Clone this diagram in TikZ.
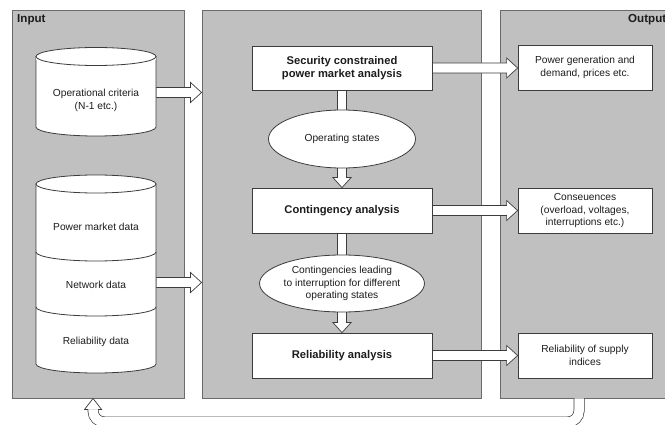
\documentclass[tikz,border=0pt]{standalone}
\usepackage{fontspec}
\setmainfont{Liberation Sans}
\usetikzlibrary{shapes.geometric,calc,shadows}
\definecolor{panelgray}{HTML}{C0C0C0}
\definecolor{paneledge}{HTML}{6B6B6B}
\definecolor{edge}{HTML}{3C3C3C}
\definecolor{ink}{HTML}{1C1C1C}
\newcommand{\regtxt}{\fontsize{10.2}{12.8}\selectfont}
\newcommand{\boldtxt}{\fontsize{11.2}{13.6}\selectfont\bfseries}
\newcommand{\titletxt}{\fontsize{11.6}{14}\selectfont\bfseries}
\pgfdeclarelayer{panels}
\pgfdeclarelayer{links}
\pgfsetlayers{panels,links,main}
\newcommand{\harrow}[2]{%
  \path[hollow] ($(#1)+(0,-5)$) -- ($(#2)+(-11,-5)$) -- ($(#2)+(-11,-10)$) -- (#2) -- ($(#2)+(-11,10)$) -- ($(#2)+(-11,5)$) -- ($(#1)+(0,5)$) -- cycle;}
\newcommand{\varrow}[2]{%
  \path[hollow] ($(#1)+(-4.5,-3)$) -- ($(#2)+(-4.5,-10)$) -- ($(#2)+(-9,-10)$) -- (#2) -- ($(#2)+(9,-10)$) -- ($(#2)+(4.5,-10)$) -- ($(#1)+(4.5,-3)$) -- cycle;}
\newcommand{\vshaft}[2]{%
  \path[hollow] ($(#1)+(-4.5,0)$) rectangle ($(#2)+(4.5,3)$);}
\begin{document}
\begin{tikzpicture}[x=1pt,y=-1pt,
  panel/.style={draw=paneledge,fill=panelgray,line width=0.9pt,inner sep=0pt,
    drop shadow={shadow xshift=1.2pt,shadow yshift=-1.2pt,fill=black,opacity=0.3}},
  procbox/.style={draw=edge,fill=white,line width=0.8pt,inner sep=0pt,minimum width=180pt,minimum height=44pt,align=center,font=\boldtxt,text=ink},
  outbox/.style={draw=edge,fill=white,line width=0.8pt,inner sep=0pt,minimum width=134pt,minimum height=45pt,align=center,font=\regtxt,text=ink},
  statell/.style={ellipse,draw=edge,fill=white,line width=0.8pt,inner sep=0pt,minimum width=147pt,minimum height=58pt,align=center,font=\regtxt,text=ink},
  dbtext/.style={font=\regtxt,align=center,text=ink},
  paneltitle/.style={font=\titletxt,text=ink,inner sep=0pt},
  dbshape/.style={draw=edge,fill=white,line width=0.8pt},
  hollow/.style={draw=edge,fill=white,line width=0.7pt,line join=miter},
]
\useasboundingbox (0,0) rectangle (665,425);
\clip (0,0) rectangle (665,425);

\begin{pgfonlayer}{panels}
\node[panel,minimum width=172pt,minimum height=388pt] (inp) at (98,204) {};
\node[panel,minimum width=279pt,minimum height=388pt] (mid) at (341.5,204) {};
\node[panel,minimum width=180pt,minimum height=388pt] (out) at (590,204) {};
\end{pgfonlayer}

\node[paneltitle,anchor=west] (intitle) at (17,20) {Input};
\node[paneltitle,anchor=west] (outtitle) at (628,20) {Output};

% cylinder 1
\path[dbshape] (36,56.5) -- (36,127) arc[start angle=180,end angle=0,x radius=60,y radius=9] -- (156,56.5) -- cycle;
\draw[draw=none,fill=white] (36.4,56.5) rectangle (155.6,60);
\draw[dbshape] (96,56.5) ellipse[x radius=60,y radius=9];
\node[dbtext] (crit) at (96,100.5) {Operational criteria\\(N-1 etc.)};
\coordinate (c1e) at (156,92.5);

% cylinder 2
\path[dbshape] (36,184) -- (36,364) arc[start angle=180,end angle=0,x radius=60,y radius=9] -- (156,184) -- cycle;
\draw[dbshape] (96,184) ellipse[x radius=60,y radius=9];
\draw[draw=edge,line width=0.8pt] (36,252) arc[start angle=180,end angle=0,x radius=60,y radius=9];
\draw[draw=edge,line width=0.8pt] (36,307) arc[start angle=180,end angle=0,x radius=60,y radius=9];
\node[dbtext] (pmd) at (96,227) {Power market data};
\node[dbtext] (nwd) at (96,285) {Network data};
\node[dbtext] (rld) at (96,342) {Reliability data};
\coordinate (c2e) at (156,282.5);

% process chain
\node[procbox] (scma) at (342,68) {Security constrained\\power market analysis};
\node[statell] (ops) at (342,139) {Operating states};
\node[procbox,minimum height=45pt] (cont) at (342,210.5) {Contingency analysis};
\node[statell,minimum height=57pt] (ctg) at (342,283.5) {Contingencies leading\\to interruption for different\\operating states};
\node[procbox,minimum height=45pt] (rel) at (342,355.5) {Reliability analysis};

% outputs
\node[outbox] (pgd) at (585,67.5) {Power generation and\\demand, prices etc.};
\node[outbox] (cons) at (585,210.5) {Conseuences\\(overload, voltages,\\interruptions etc.)};
\node[outbox] (ros) at (585,355.5) {Reliability of supply\\indices};

\coordinate (fbs) at ($(out.south west)+(79.5,0)$);
\coordinate (fbe) at ($(inp.south west)+(81.5,0)$);

\begin{pgfonlayer}{links}
\harrow{c1e}{mid.west |- c1e}
\harrow{c2e}{mid.west |- c2e}
\harrow{scma.east}{pgd.west |- scma.east}
\harrow{cont.east}{cons.west |- cont.east}
\harrow{rel.east}{ros.west |- rel.east}
\vshaft{scma.south}{ops.north}
\varrow{ops.south}{cont.north}
\vshaft{cont.south}{ctg.north}
\varrow{ctg.south}{rel.north}
\draw[draw=edge,line width=0.7pt,double=white,double distance=9.5pt,rounded corners=11pt]
  (fbs) -- ($(fbs)+(0,23.5)$) -| ($(fbe)+(0,11)$);
\fill[white] (fbe) -- ($(fbe)+(-8.5,11)$) -- ($(fbe)+(8.5,11)$) -- cycle;
\draw[draw=edge,line width=0.7pt,line join=miter] ($(fbe)+(-5.1,11)$) -- ($(fbe)+(-8.5,11)$) -- (fbe) -- ($(fbe)+(8.5,11)$) -- ($(fbe)+(5.1,11)$);
\end{pgfonlayer}
\end{tikzpicture}
\end{document}
